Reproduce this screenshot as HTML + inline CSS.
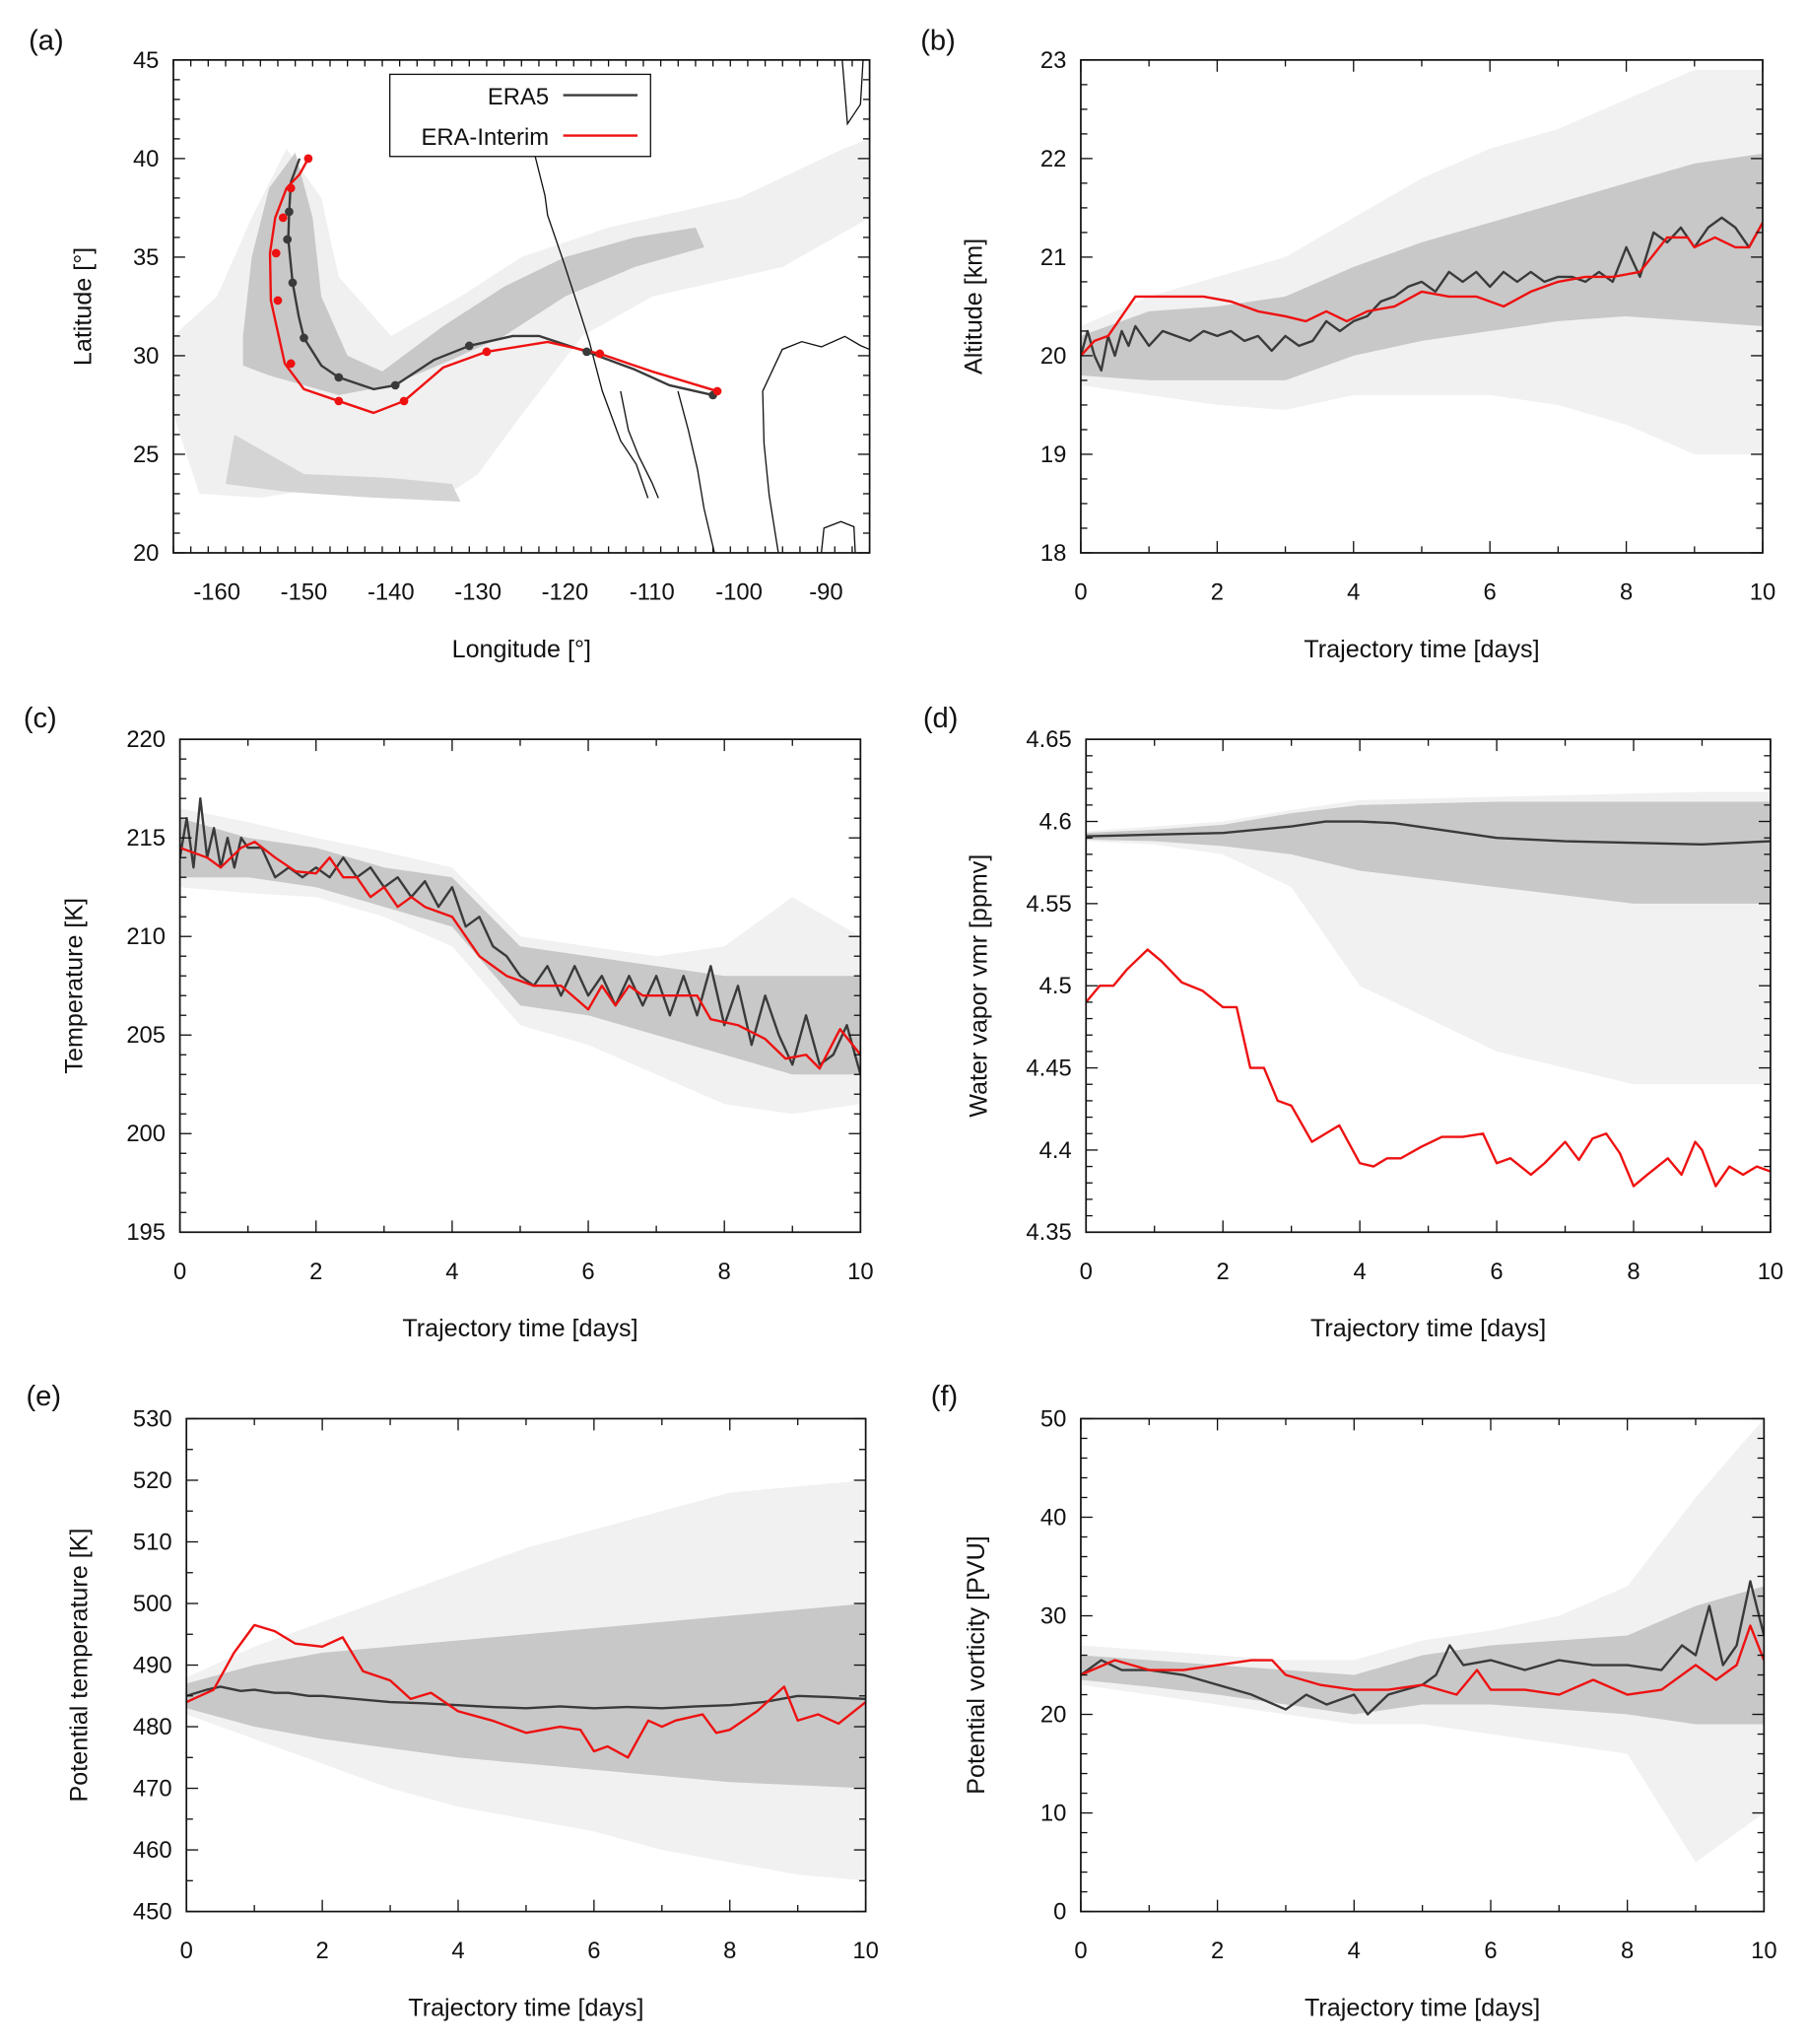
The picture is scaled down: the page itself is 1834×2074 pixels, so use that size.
<!DOCTYPE html>
<html><head><meta charset="utf-8"><style>
html,body{margin:0;padding:0;background:#fff}
svg{display:block}
text{font-family:"Liberation Sans",sans-serif;fill:#111}
</style></head><body>
<svg id="fig" xmlns="http://www.w3.org/2000/svg" width="1834" height="2074" viewBox="0 0 1386 1567.6" preserveAspectRatio="none"></svg>
<script>
// ---------- DATA ----------
const mapEra5Lon=[-150.5,-151.5,-151.7,-151.8,-151.3,-150.6,-150,-148,-146,-142,-139.5,-135,-131,-126,-123,-117.5,-112,-108,-103];
const mapEra5Lat=[40,38.8,37.3,35.9,33.7,32,30.9,29.5,28.9,28.3,28.5,29.8,30.5,31,31,30.2,29.3,28.5,28];
const mapEra5DotLon=[-151.7,-151.9,-151.3,-150,-146,-139.5,-131,-117.5,-103];
const mapEra5DotLat=[37.3,35.9,33.7,30.9,28.9,28.5,30.5,30.2,28];
const mapEraiLon=[-149.5,-150.5,-152,-153.3,-153.9,-153.8,-152.2,-150,-146,-142,-138.5,-134,-129,-122,-116,-110,-102.5];
const mapEraiLat=[40,39.2,38.5,37,35.2,32.8,29.6,28.3,27.7,27.1,27.7,29.4,30.2,30.7,30.1,29.2,28.2];
const mapEraiDotLon=[-149.5,-151.5,-152.4,-153.2,-153,-151.5,-146,-138.5,-129,-116,-102.5];
const mapEraiDotLat=[40,38.5,37,35.2,32.8,29.6,27.7,27.7,30.2,30.1,28.2];

const tDays=[0,1,2,3,4,5,6,7,8,9,10];
const altEra5T=[0,0.1,0.2,0.3,0.4,0.5,0.6,0.7,0.8,1,1.2,1.4,1.6,1.8,2,2.2,2.4,2.6,2.8,3,3.2,3.4,3.6,3.8,4,4.2,4.4,4.6,4.8,5,5.2,5.4,5.6,5.8,6,6.2,6.4,6.6,6.8,7,7.2,7.4,7.6,7.8,8,8.2,8.4,8.6,8.8,9,9.2,9.4,9.6,9.8,10];
const altEra5=[20.0,20.25,20.0,19.85,20.2,20.0,20.25,20.1,20.3,20.1,20.25,20.2,20.15,20.25,20.2,20.25,20.15,20.2,20.05,20.2,20.1,20.15,20.35,20.25,20.35,20.4,20.55,20.6,20.7,20.75,20.65,20.85,20.75,20.85,20.7,20.85,20.75,20.85,20.75,20.8,20.8,20.75,20.85,20.75,21.1,20.8,21.25,21.15,21.3,21.1,21.3,21.4,21.3,21.1,21.35];
const altEraiT=[0,0.2,0.4,0.6,0.8,1,1.4,1.8,2.2,2.6,3,3.3,3.6,3.9,4.2,4.6,5,5.4,5.8,6.2,6.6,7,7.4,7.8,8.2,8.6,8.9,9,9.3,9.6,9.8,10];
const altErai=[20.0,20.15,20.2,20.4,20.6,20.6,20.6,20.6,20.55,20.45,20.4,20.35,20.45,20.35,20.45,20.5,20.65,20.6,20.6,20.5,20.65,20.75,20.8,20.8,20.85,21.2,21.2,21.1,21.2,21.1,21.1,21.35];
const altCoreLo=[19.8,19.75,19.75,19.75,20.0,20.15,20.25,20.35,20.4,20.35,20.3];
const altCoreHi=[20.2,20.45,20.5,20.6,20.9,21.15,21.35,21.55,21.75,21.95,22.05];
const altOutLo=[19.7,19.6,19.5,19.45,19.6,19.6,19.6,19.5,19.3,19.0,19.0];
const altOutHi=[20.3,20.6,20.8,21.0,21.4,21.8,22.1,22.3,22.6,22.9,22.9];
const tmpEra5T=[0,0.1,0.2,0.3,0.4,0.5,0.6,0.7,0.8,0.9,1,1.2,1.4,1.6,1.8,2,2.2,2.4,2.6,2.8,3,3.2,3.4,3.6,3.8,4,4.2,4.4,4.6,4.8,5,5.2,5.4,5.6,5.8,6,6.2,6.4,6.6,6.8,7,7.2,7.4,7.6,7.8,8,8.2,8.4,8.6,8.8,9,9.2,9.4,9.6,9.8,10];
const tmpEra5=[214,216,213.5,217,214,215.5,213.5,215,213.5,215,214.5,214.5,213,213.5,213,213.5,213,214,213,213.5,212.5,213,212,212.8,211.5,212.5,210.5,211,209.5,209,208,207.5,208.5,207,208.5,207,208,206.5,208,206.5,208,206,208,206,208.5,205.5,207.5,204.5,207,205,203.5,206,203.5,204,205.5,203];
const tmpEraiT=[0,0.4,0.6,0.9,1.1,1.4,1.7,2,2.2,2.4,2.6,2.8,3,3.2,3.4,3.6,4,4.4,4.8,5.2,5.6,6,6.2,6.4,6.6,6.8,7.2,7.6,7.8,8.2,8.6,8.9,9.2,9.4,9.7,10];
const tmpErai=[214.5,214,213.5,214.5,214.8,214,213.3,213.2,214,213,213,212,212.5,211.5,212,211.5,211,209,208,207.5,207.5,206.3,207.5,206.5,207.5,207,207,207,205.8,205.5,204.8,203.8,204,203.3,205.3,204];
const tmpCoreLo=[213,213,212.5,211.5,210.5,206.5,206,205,204,203,203];
const tmpCoreHi=[216,215,214.5,213.5,213,209.5,209,208.5,208,208,208];
const tmpOutLo=[212.5,212.2,212,211,209.5,205.5,204.5,203,201.5,201,201.5];
const tmpOutHi=[216.5,215.8,215,214.3,213.5,210,209.5,209,209.5,212,210];
const wvEra5T=[0,1,2,3,3.5,4,4.5,5,6,7,8,9,10];
const wvEra5=[4.591,4.592,4.593,4.597,4.6,4.6,4.599,4.596,4.59,4.588,4.587,4.586,4.588];
const wvEraiT=[0,0.2,0.4,0.6,0.9,1.1,1.4,1.7,2,2.2,2.4,2.6,2.8,3,3.3,3.5,3.7,4,4.2,4.4,4.6,4.9,5.2,5.5,5.8,6,6.2,6.5,6.7,7,7.2,7.4,7.6,7.8,8,8.2,8.5,8.7,8.9,9,9.2,9.4,9.6,9.8,10];
const wvErai=[4.49,4.5,4.5,4.51,4.522,4.515,4.502,4.497,4.487,4.487,4.45,4.45,4.43,4.427,4.405,4.41,4.415,4.392,4.39,4.395,4.395,4.402,4.408,4.408,4.41,4.392,4.395,4.385,4.392,4.405,4.394,4.407,4.41,4.398,4.378,4.385,4.395,4.385,4.405,4.4,4.378,4.39,4.385,4.39,4.387];
const wvCoreLo=[4.589,4.588,4.585,4.58,4.57,4.565,4.56,4.555,4.55,4.55,4.55];
const wvCoreHi=[4.593,4.595,4.598,4.605,4.61,4.611,4.612,4.612,4.612,4.612,4.612];
const wvOutLo=[4.588,4.586,4.58,4.56,4.5,4.48,4.46,4.45,4.44,4.44,4.44];
const wvOutHi=[4.594,4.597,4.6,4.607,4.613,4.614,4.615,4.616,4.617,4.618,4.618];
const ptEra5T=[0,0.3,0.5,0.8,1,1.3,1.5,1.8,2,2.5,3,3.5,4,4.5,5,5.5,6,6.5,7,7.5,8,8.5,9,9.5,10];
const ptEra5=[485,486,486.5,485.8,486,485.5,485.5,485,485,484.5,484,483.8,483.5,483.2,483,483.3,483,483.2,483,483.3,483.5,484,485,484.8,484.5];
const ptEraiT=[0,0.4,0.7,1,1.3,1.6,2,2.3,2.6,3,3.3,3.6,4,4.5,5,5.5,5.8,6,6.2,6.5,6.8,7,7.2,7.6,7.8,8,8.4,8.8,9,9.3,9.6,10];
const ptErai=[484,486,492,496.5,495.5,493.5,493,494.5,489,487.5,484.5,485.5,482.5,481,479,480,479.5,476,476.8,475,481,480,481,482,479,479.5,482.5,486.5,481,482,480.5,484];
const ptCoreLo=[483,480,478,476.5,475,474,473,472,471,470.5,470];
const ptCoreHi=[487,490,492,493,494,495,496,497,498,499,500];
const ptOutLo=[482,478,474,470,467,465,463,460,458,456,455];
const ptOutHi=[488,493,497,501,505,509,512,515,518,519,520];
const pvEra5T=[0,0.3,0.6,1,1.5,2,2.5,3,3.3,3.6,4,4.2,4.5,5,5.2,5.4,5.6,6,6.5,7,7.5,8,8.5,8.8,9,9.2,9.4,9.6,9.8,10];
const pvEra5=[24,25.5,24.5,24.5,24,23,22,20.5,22,21,22,20,22,23,24,27,25,25.5,24.5,25.5,25,25,24.5,27,26,31,25,27,33.5,28];
const pvEraiT=[0,0.5,1,1.5,2,2.5,2.8,3,3.5,4,4.5,5,5.5,5.8,6,6.5,7,7.5,8,8.5,9,9.3,9.6,9.8,10];
const pvErai=[24,25.5,24.5,24.5,25,25.5,25.5,24,23,22.5,22.5,23,22,24.5,22.5,22.5,22,23.5,22,22.5,25,23.5,25,29,25.5];
const pvCoreLo=[23.5,22.8,22,21,20,21,21,20.5,20,19,19];
const pvCoreHi=[26,25.5,25,24.5,24,26,27,27.5,28,31,33];
const pvOutLo=[23,22,21,20,19,19,18,17,16,5,10];
const pvOutHi=[27,26.5,26,25.5,25.5,27.5,28.5,30,33,42,50];

// ---------- DRAWING ----------
const NS='http://www.w3.org/2000/svg';
const svg=document.getElementById('fig');
function mk(tag,attrs,parent){const e=document.createElementNS(NS,tag);for(const k in attrs)e.setAttribute(k,attrs[k]);(parent||svg).appendChild(e);return e;}
function txt(s,x,y,size,anchor,parent,rot){const e=mk('text',{x:x,y:y,'font-size':size,'text-anchor':anchor||'middle'},parent);if(rot)e.setAttribute('transform','rotate(-90 '+x+' '+y+')');e.textContent=s;return e;}

function panel(p){
  const g=mk('g',{});
  
  
  const X=v=>p.x0+(v-p.xmin)/(p.xmax-p.xmin)*(p.x1-p.x0);
  const Y=v=>p.y1-(v-p.ymin)/(p.ymax-p.ymin)*(p.y1-p.y0);
  const clipId='clip'+p.id;
  const cp=mk('clipPath',{id:clipId},g);mk('rect',{x:p.x0,y:p.y0,width:p.x1-p.x0,height:p.y1-p.y0},cp);
  const plot=mk('g',{'clip-path':'url(#'+clipId+')'},g);
  p.X=X;p.Y=Y;p.plot=plot;
  if(p.draw)p.draw(p);
  const fr=mk('rect',{x:p.x0,y:p.y0,width:p.x1-p.x0,height:p.y1-p.y0,fill:'none',stroke:'#111','stroke-width':1.3},g);
  
  
  const eps=1e-9;
  for(let v=p.xmin;v<=p.xmax+eps;v+=p.xminor){
    const major=Math.abs(((v-p.xtick0)/p.xmajor)-Math.round((v-p.xtick0)/p.xmajor))<1e-6;
    const L=major?9:5,x=X(v);
    mk('line',{x1:x,y1:p.y1,x2:x,y2:p.y1-L,stroke:'#111','stroke-width':1},g);
    mk('line',{x1:x,y1:p.y0,x2:x,y2:p.y0+L,stroke:'#111','stroke-width':1},g);
  }
  for(let v=p.ymin;v<=p.ymax+eps;v+=p.yminor){
    const major=Math.abs(((v-p.ymin)/p.ymajor)-Math.round((v-p.ymin)/p.ymajor))<1e-6;
    const L=major?9:5,y=Y(v);
    mk('line',{x1:p.x0,y1:y,x2:p.x0+L,y2:y,stroke:'#111','stroke-width':1},g);
    mk('line',{x1:p.x1,y1:y,x2:p.x1-L,y2:y,stroke:'#111','stroke-width':1},g);
  }
  p.xlabels.forEach(v=>{const t=txt(String(v),X(v),p.y1+36,18,'middle',g);});
  p.ylabels.forEach(v=>{const t=txt(p.yfmt?p.yfmt(v):String(v),p.x0-11,Y(v)+6,18,'end',g);});
  const xt=txt(p.xtitle,(p.x0+p.x1)/2,p.y1+80,19,'middle',g);
  
  const yt=txt(p.ytitle,p.ytx,(p.y0+p.y1)/2,19,'middle',g,true);
  
  const pl=txt(p.label,p.lx,p.ly,22,'start',g);
  
  return p;
}
function band(p,xs,lo,hi,fill,name){
  let d='M'+xs.map((t,i)=>p.X(t)+','+p.Y(hi[i])).join('L');
  d+='L'+xs.map((t,i)=>p.X(t)+','+p.Y(lo[i])).reverse().join('L')+'Z';
  const e=mk('path',{d:d,fill:fill,stroke:'none'},p.plot);
  
  
}
function line(p,xs,ys,color,w,name){
  const d='M'+xs.map((t,i)=>p.X(t).toFixed(2)+','+p.Y(ys[i]).toFixed(2)).join('L');
  const e=mk('path',{d:d,fill:'none',stroke:color,'stroke-width':w,'stroke-linejoin':'round'},p.plot);
  
  
}
function ensembleAndLines(p,cLo,cHi,oLo,oHi,eT,e,rT,r){
  band(p,tDays,oLo,oHi,'#f1f1f1','ensemble-outer');
  band(p,tDays,cLo,cHi,'#c8c8c8','ensemble-core');
  line(p,eT,e,'#3a3a3a',1.8,'era5-line');
  line(p,rT,r,'#ee1111',1.8,'era-interim-line');
}
const tt='Trajectory time [days]';
const timeX={xmin:0,xmax:10,xmajor:2,xminor:1,xtick0:0,xlabels:[0,2,4,6,8,10],xtitle:tt};

panel({id:'a',name:'panel-a-map',label:'(a)',lx:22,ly:38,x0:133,x1:667,y0:46,y1:424,
  xmin:-165,xmax:-85,xmajor:10,xminor:2,xtick0:-160,xlabels:[-160,-150,-140,-130,-120,-110,-100,-90],
  ymin:20,ymax:45,ymajor:5,yminor:1,ylabels:[20,25,30,35,40,45],
  xtitle:'Longitude [°]',ytitle:'Latitude [°]',ytx:70,
  draw:p=>{
    const P=(pts)=>'M'+pts.map(q=>p.X(q[0])+','+p.Y(q[1])).join('L')+'Z';
    const outer=mk('path',{d:P([[-165,31],[-160,33],[-156,37],[-152,40.5],[-148,38],[-146,34],[-140,31],[-132,33],[-125,35],[-115,36.5],[-100,38],[-88,40.5],[-85,41],[-85,37],[-95,34.5],[-110,33],[-118,31],[-125,27],[-130,24],[-134,22.8],[-145,23.5],[-155,22.8],[-162,23],[-165,27]]),fill:'#f0f0f0'},p.plot);
    
    const core=mk('path',{d:P([[-157,31],[-156,35],[-154,38.5],[-151,40.3],[-149,37],[-148,33],[-145,30],[-141,29.2],[-134,31.5],[-127,33.5],[-120,35],[-112,36],[-105,36.5],[-104,35.5],[-112,34.5],[-120,33],[-127,31],[-133,29.8],[-140,28.5],[-146,28],[-150,28.5],[-154,29],[-157,29.5]]),fill:'#c8c8c8'},p.plot);
    
    const low=mk('path',{d:P([[-158,26],[-150,24],[-140,23.8],[-133,23.5],[-132,22.6],[-142,22.8],[-152,23.1],[-159,23.5]]),fill:'#d4d4d4'},p.plot);
    
    [['M410,118 L418,150 L420,165 L432,200 L445,240 L452,262 L462,300 L476,338 L488,356 L497,382','coast-california'],
     ['M476,300 L482,330 L490,350 L500,370 L505,382','coast-baja'],
     ['M520,300 L528,330 L535,360 L540,390 L548,424','coast-mexico-west'],
     ['M597,424 L590,380 L586,340 L585,300 L592,285 L600,268 L615,262 L630,266 L648,258 L660,265 L667,268','coast-gulf'],
     ['M646,46 L648,70 L650,95 L660,80 L662,46','coast-florida'],
     ['M630,424 L632,405 L645,400 L655,404 L656,424','coast-cuba']].forEach(c=>{
      const e=mk('path',{d:c[0],fill:'none',stroke:'#111','stroke-width':1},p.plot);
      });
    const lineLL=(lon,lat,col,name)=>{const e=mk('path',{d:'M'+lon.map((v,i)=>p.X(v)+','+p.Y(lat[i])).join('L'),fill:'none',stroke:col,'stroke-width':1.8,'stroke-linejoin':'round'},p.plot);};
    lineLL(mapEra5Lon,mapEra5Lat,'#3a3a3a','era5-trajectory');
    lineLL(mapEraiLon,mapEraiLat,'#ee1111','era-interim-trajectory');
    mapEra5DotLon.forEach((v,i)=>{const c=mk('circle',{cx:p.X(v),cy:p.Y(mapEra5DotLat[i]),r:3.3,fill:'#3a3a3a'},p.plot);});
    mapEraiDotLon.forEach((v,i)=>{const c=mk('circle',{cx:p.X(v),cy:p.Y(mapEraiDotLat[i]),r:3.3,fill:'#ee1111'},p.plot);});
  }});
const lg=mk('g',{});


mk('rect',{x:299,y:57,width:200,height:63,fill:'#fff',stroke:'#111','stroke-width':1},lg);
const l1=txt('ERA5',421,80,18,'end',lg);
mk('line',{x1:432,y1:73,x2:489,y2:73,stroke:'#3a3a3a','stroke-width':1.8},lg);
const l2=txt('ERA-Interim',421,111,18,'end',lg);
mk('line',{x1:432,y1:104,x2:489,y2:104,stroke:'#ee1111','stroke-width':1.8},lg);

panel(Object.assign({id:'b',name:'panel-b-altitude',label:'(b)',lx:706,ly:38,x0:829,x1:1352,y0:46,y1:424,
  ymin:18,ymax:23,ymajor:1,yminor:0.25,ylabels:[18,19,20,21,22,23],ytitle:'Altitude [km]',ytx:753,
  draw:p=>ensembleAndLines(p,altCoreLo,altCoreHi,altOutLo,altOutHi,altEra5T,altEra5,altEraiT,altErai)},timeX));
panel(Object.assign({id:'c',name:'panel-c-temperature',label:'(c)',lx:18,ly:558,x0:138,x1:660,y0:567,y1:945,
  ymin:195,ymax:220,ymajor:5,yminor:1,ylabels:[195,200,205,210,215,220],ytitle:'Temperature [K]',ytx:63,
  draw:p=>ensembleAndLines(p,tmpCoreLo,tmpCoreHi,tmpOutLo,tmpOutHi,tmpEra5T,tmpEra5,tmpEraiT,tmpErai)},timeX));
panel(Object.assign({id:'d',name:'panel-d-water-vapor',label:'(d)',lx:708,ly:558,x0:833,x1:1358,y0:567,y1:945,
  ymin:4.35,ymax:4.65,ymajor:0.05,yminor:0.01,ylabels:[4.35,4.4,4.45,4.5,4.55,4.6,4.65],yfmt:v=>String(+v.toFixed(2)),ytitle:'Water vapor vmr [ppmv]',ytx:757,
  draw:p=>ensembleAndLines(p,wvCoreLo,wvCoreHi,wvOutLo,wvOutHi,wvEra5T,wvEra5,wvEraiT,wvErai)},timeX));
panel(Object.assign({id:'e',name:'panel-e-potential-temperature',label:'(e)',lx:20,ly:1078,x0:143,x1:664,y0:1088,y1:1466,
  ymin:450,ymax:530,ymajor:10,yminor:5,ylabels:[450,460,470,480,490,500,510,520,530],ytitle:'Potential temperature [K]',ytx:67,
  draw:p=>ensembleAndLines(p,ptCoreLo,ptCoreHi,ptOutLo,ptOutHi,ptEra5T,ptEra5,ptEraiT,ptErai)},timeX));
panel(Object.assign({id:'f',name:'panel-f-potential-vorticity',label:'(f)',lx:714,ly:1078,x0:829,x1:1353,y0:1088,y1:1466,
  ymin:0,ymax:50,ymajor:10,yminor:2,ylabels:[0,10,20,30,40,50],ytitle:'Potential vorticity [PVU]',ytx:755,
  draw:p=>ensembleAndLines(p,pvCoreLo,pvCoreHi,pvOutLo,pvOutHi,pvEra5T,pvEra5,pvEraiT,pvErai)},timeX));
</script>
</body></html>
